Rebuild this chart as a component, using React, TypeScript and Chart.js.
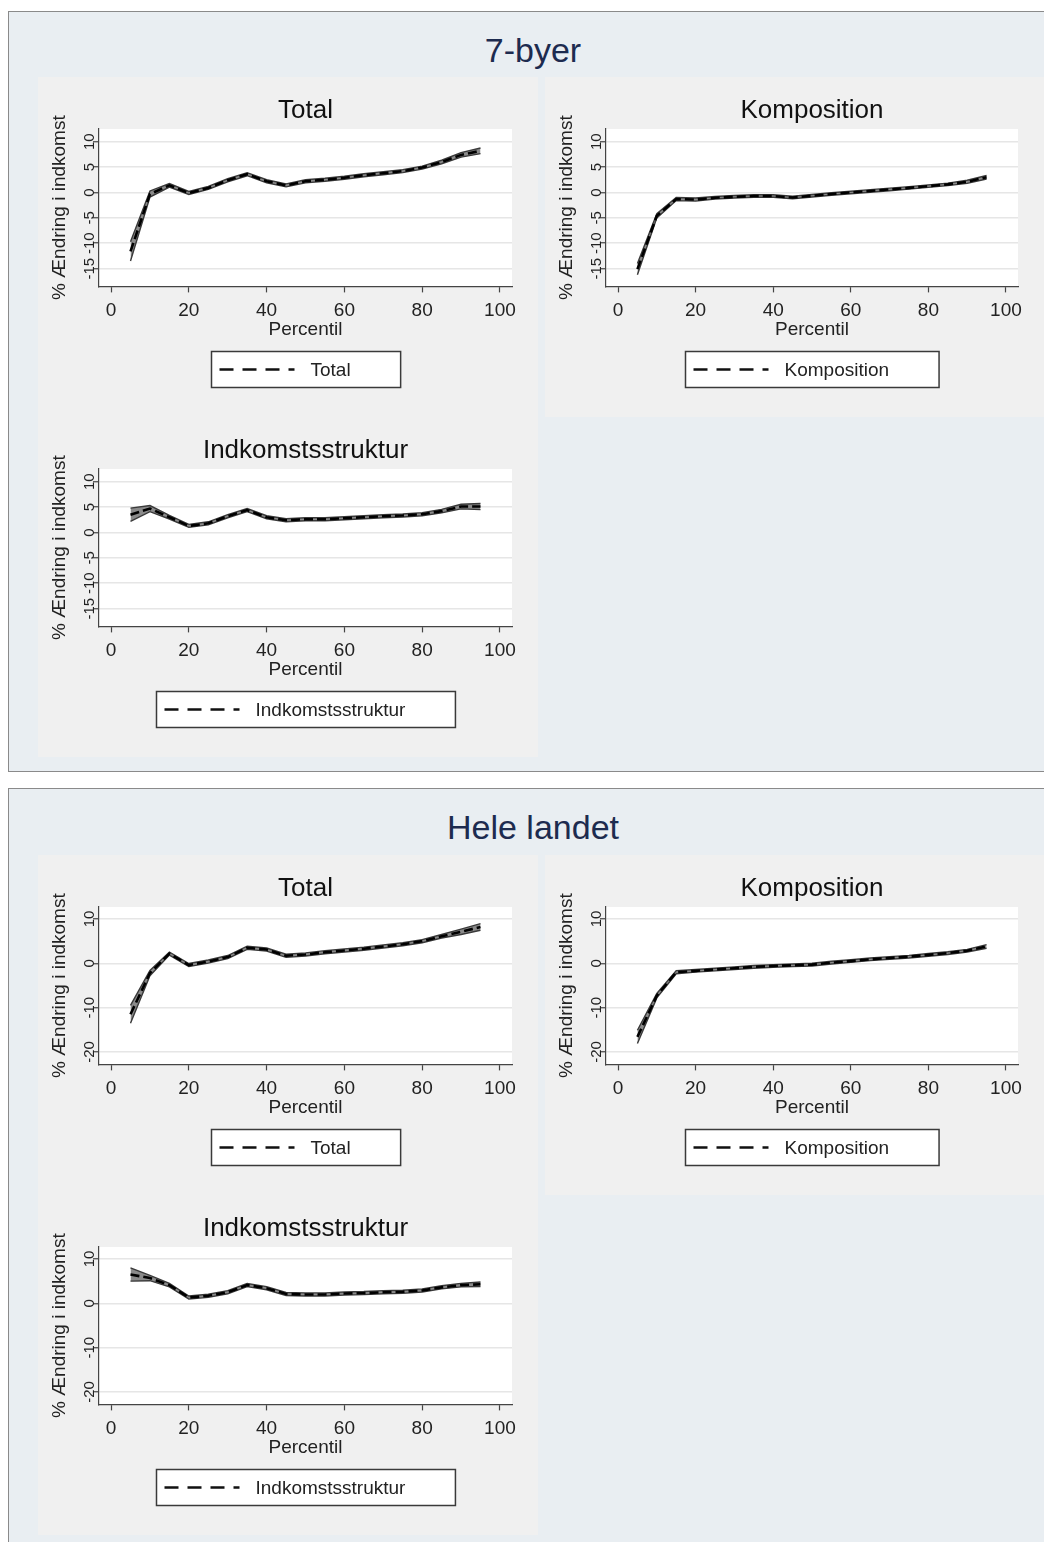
import React, { useEffect, useRef } from 'react';
import { Chart, registerables } from 'chart.js';

Chart.register(...registerables);
Chart.defaults.font.family = '"Liberation Sans", Arial, sans-serif';

// ---------- data ----------
const percentiles = [5, 10, 15, 20, 25, 30, 35, 40, 45, 50, 55, 60, 65, 70, 75, 80, 85, 90, 95];
const xTicks = [0, 20, 40, 60, 80, 100];
const yTicksByer = [-15, -10, -5, 0, 5, 10];
const yTicksLandet = [-20, -10, 0, 10];

// 7-byer
const byerTotal = [-11.6, -0.3, 1.4, -0.1, 0.9, 2.4, 3.6, 2.2, 1.4, 2.2, 2.5, 2.9, 3.4, 3.8, 4.2, 4.9, 6.0, 7.4, 8.2];
const byerTotalCi = [1.9, 0.6, 0.35, 0.3, 0.3, 0.3, 0.3, 0.3, 0.3, 0.3, 0.3, 0.3, 0.3, 0.3, 0.3, 0.3, 0.35, 0.45, 0.55];
const byerKomp = [-15.1, -4.6, -1.3, -1.4, -1.05, -0.85, -0.7, -0.7, -1.0, -0.65, -0.3, 0.0, 0.3, 0.6, 0.9, 1.25, 1.6, 2.1, 3.0];
const byerKompCi = [1.1, 0.4, 0.3, 0.3, 0.25, 0.25, 0.25, 0.25, 0.25, 0.25, 0.25, 0.25, 0.25, 0.25, 0.25, 0.25, 0.25, 0.3, 0.35];
const byerIndk = [3.5, 4.7, 3.0, 1.3, 1.8, 3.2, 4.4, 3.0, 2.4, 2.6, 2.6, 2.8, 3.0, 3.2, 3.35, 3.6, 4.2, 5.1, 5.1];
const byerIndkCi = [1.3, 0.6, 0.35, 0.3, 0.3, 0.3, 0.3, 0.3, 0.3, 0.3, 0.3, 0.3, 0.3, 0.3, 0.3, 0.3, 0.35, 0.45, 0.6];

// Hele landet
const landTotal = [-11.5, -2.2, 2.2, -0.4, 0.4, 1.4, 3.5, 3.1, 1.7, 2.0, 2.5, 2.9, 3.3, 3.8, 4.3, 5.0, 6.1, 7.1, 8.2];
const landTotalCi = [2.0, 0.6, 0.35, 0.35, 0.35, 0.35, 0.35, 0.35, 0.35, 0.35, 0.35, 0.35, 0.35, 0.35, 0.35, 0.35, 0.4, 0.6, 0.75];
const landKomp = [-16.6, -7.3, -2.0, -1.7, -1.4, -1.1, -0.8, -0.6, -0.45, -0.3, 0.15, 0.5, 0.9, 1.2, 1.5, 1.9, 2.3, 2.85, 3.8];
const landKompCi = [1.5, 0.5, 0.35, 0.3, 0.3, 0.3, 0.3, 0.3, 0.3, 0.3, 0.3, 0.3, 0.3, 0.3, 0.3, 0.3, 0.3, 0.3, 0.4];
const landIndk = [6.5, 5.7, 4.1, 1.3, 1.7, 2.5, 4.1, 3.4, 2.1, 2.0, 2.0, 2.2, 2.3, 2.5, 2.6, 2.9, 3.6, 4.1, 4.3];
const landIndkCi = [1.5, 0.6, 0.4, 0.35, 0.35, 0.35, 0.35, 0.35, 0.35, 0.35, 0.35, 0.35, 0.35, 0.35, 0.35, 0.35, 0.35, 0.4, 0.5];

const yTitle = '% Ændring i indkomst';
const xTitle = 'Percentil';

type PanelDef = {
  title: string;
  values: number[];
  ci: number[];
  yMin: number;
  yMax: number;
  yTicks: number[];
  left: number;
  top: number;
  width: number;
};

const FONT = '"Liberation Sans", Arial, sans-serif';

const plotBg = {
  id: 'plotBg',
  beforeDraw(chart: any) {
    const { ctx, chartArea: ca } = chart;
    ctx.save();
    ctx.fillStyle = '#ffffff';
    ctx.fillRect(ca.left, ca.top, ca.right - ca.left, ca.bottom - ca.top);
    ctx.restore();
  },
};

const boxLegend = {
  id: 'boxLegend',
  afterDraw(chart: any) {
    const { ctx, chartArea: ca } = chart;
    const ds = chart.data.datasets[2];
    ctx.save();
    ctx.font = '19px ' + FONT;
    const tw = ctx.measureText(ds.label).width;
    const w = 8 + 75 + 16 + tw + 50;
    const h = 36;
    const cx = (ca.left + ca.right) / 2;
    const x0 = Math.round(cx - w / 2) + 0.5;
    const y0 = Math.round(ca.bottom + 65) + 0.5;
    ctx.fillStyle = '#ffffff';
    ctx.fillRect(x0, y0, w, h);
    ctx.strokeStyle = '#3a3a3a';
    ctx.lineWidth = 1.5;
    ctx.strokeRect(x0, y0, w, h);
    ctx.beginPath();
    ctx.setLineDash([14, 9]);
    ctx.lineWidth = 2.5;
    ctx.strokeStyle = '#111111';
    ctx.moveTo(x0 + 8, y0 + h / 2);
    ctx.lineTo(x0 + 83, y0 + h / 2);
    ctx.stroke();
    ctx.setLineDash([]);
    ctx.fillStyle = '#222222';
    ctx.textBaseline = 'middle';
    ctx.textAlign = 'left';
    ctx.fillText(ds.label, x0 + 99, y0 + h / 2 + 1);
    ctx.restore();
  },
};

function Panel({ p }: { p: PanelDef }) {
  const ref = useRef<HTMLCanvasElement>(null);
  useEffect(() => {
    if (!ref.current) return;
    const pts = (arr: number[]) => percentiles.map((x, i) => ({ x, y: arr[i] }));
    const upper = p.values.map((v, i) => v + p.ci[i]);
    const lower = p.values.map((v, i) => v - p.ci[i]);
    const chart = new Chart(ref.current, {
      type: 'line',
      data: {
        datasets: [
          {
            label: 'Øvre',
            data: pts(upper),
            borderColor: '#3a3a3a',
            borderWidth: 1.4,
            pointRadius: 0,
            fill: false,
            tension: 0,
            order: 1,
          },
          {
            label: 'Nedre',
            data: pts(lower),
            borderColor: '#3a3a3a',
            borderWidth: 1.4,
            pointRadius: 0,
            fill: '-1',
            backgroundColor: '#8a8a8a',
            tension: 0,
            order: 2,
          },
          {
            label: p.title,
            data: pts(p.values),
            borderColor: '#000000',
            borderWidth: 2.6,
            borderDash: [9, 4],
            pointRadius: 0,
            fill: false,
            tension: 0,
            order: 0,
          },
        ],
      },
      options: {
        animation: false,
        responsive: false,
        devicePixelRatio: 1,
        layout: { padding: { left: 0, right: 26, top: 0, bottom: 75.9 } },
        plugins: {
          legend: { display: false },
          tooltip: { enabled: false },
          title: {
            display: true,
            fullSize: false,
            text: p.title,
            color: '#111111',
            font: { size: 26, weight: 'normal', lineHeight: 1.2 },
            padding: { top: 17.9, bottom: 2.9 },
          },
        },
        scales: {
          x: {
            type: 'linear',
            min: -3.1,
            max: 103.1,
            afterBuildTicks: (s: any) => {
              s.ticks = xTicks.map((v) => ({ value: v }));
            },
            afterFit: (s: any) => {
              s.height = 54.7;
            },
            grid: { drawOnChartArea: false, drawTicks: true, tickLength: 6, tickColor: '#444444', tickWidth: 1.2 },
            border: { display: true, color: '#444444', width: 1.2 },
            ticks: { font: { size: 19 }, color: '#222222', padding: 7, maxRotation: 0, minRotation: 0, autoSkip: false },
            title: { display: true, text: xTitle, color: '#222222', font: { size: 19, lineHeight: 1.2 }, padding: 0 },
          },
          y: {
            type: 'linear',
            min: p.yMin,
            max: p.yMax,
            afterBuildTicks: (s: any) => {
              s.ticks = p.yTicks.map((v) => ({ value: v }));
            },
            afterFit: (s: any) => {
              s.width = 61;
            },
            grid: { color: '#e6e6e6', lineWidth: 1.5, drawTicks: true, tickLength: 6, tickColor: '#444444', tickWidth: 1.2 },
            border: { display: true, color: '#444444', width: 1.2 },
            ticks: {
              font: { size: 15 },
              color: '#222222',
              minRotation: 90,
              maxRotation: 90,
              crossAlign: 'center',
              padding: -8,
              autoSkip: false,
            },
            title: { display: true, text: yTitle, color: '#222222', font: { size: 19, lineHeight: 1.2 }, padding: { top: 10.3, bottom: 0 } },
          },
        },
      } as any,
      plugins: [plotBg, boxLegend],
    });
    return () => chart.destroy();
  }, []);
  return (
    <div style={{ position: 'absolute', left: p.left, top: p.top, width: p.width, height: 340, background: '#f0f0f0' }}>
      <canvas ref={ref} width={p.width} height={340} style={{ width: p.width, height: 340, display: 'block' }} />
    </div>
  );
}

const panels: PanelDef[] = [
  { title: 'Total', values: byerTotal, ci: byerTotalCi, yMin: -18.5, yMax: 12.5, yTicks: yTicksByer, left: 38.3, top: 77.3, width: 500 },
  { title: 'Komposition', values: byerKomp, ci: byerKompCi, yMin: -18.5, yMax: 12.5, yTicks: yTicksByer, left: 544.7, top: 77.3, width: 499 },
  { title: 'Indkomstsstruktur', values: byerIndk, ci: byerIndkCi, yMin: -18.5, yMax: 12.5, yTicks: yTicksByer, left: 38.3, top: 417.3, width: 500 },
  { title: 'Total', values: landTotal, ci: landTotalCi, yMin: -22.8, yMax: 12.7, yTicks: yTicksLandet, left: 38.3, top: 855.3, width: 500 },
  { title: 'Komposition', values: landKomp, ci: landKompCi, yMin: -22.8, yMax: 12.7, yTicks: yTicksLandet, left: 544.7, top: 855.3, width: 499 },
  { title: 'Indkomstsstruktur', values: landIndk, ci: landIndkCi, yMin: -22.8, yMax: 12.7, yTicks: yTicksLandet, left: 38.3, top: 1195.3, width: 500 },
];

const superTitle: React.CSSProperties = {
  position: 'absolute',
  left: 383,
  width: 300,
  textAlign: 'center',
  fontFamily: FONT,
  fontSize: 34,
  lineHeight: '40px',
  color: '#1d2b4f',
};

export default function App() {
  return (
    <div style={{ position: 'absolute', left: 0, top: 0, width: 1044, height: 1542, overflow: 'hidden', background: '#ffffff' }}>
      <div style={{ position: 'absolute', left: 8, top: 11, width: 1040, height: 759, border: '1px solid #8a8a8a', background: '#e9eef2' }} />
      <div style={{ position: 'absolute', left: 8, top: 788, width: 1040, height: 770, border: '1px solid #8a8a8a', background: '#e9eef2' }} />
      <div style={{ ...superTitle, top: 30 }}>7-byer</div>
      <div style={{ ...superTitle, top: 807 }}>Hele landet</div>
      {panels.map((p, i) => (
        <Panel key={i} p={p} />
      ))}
    </div>
  );
}
